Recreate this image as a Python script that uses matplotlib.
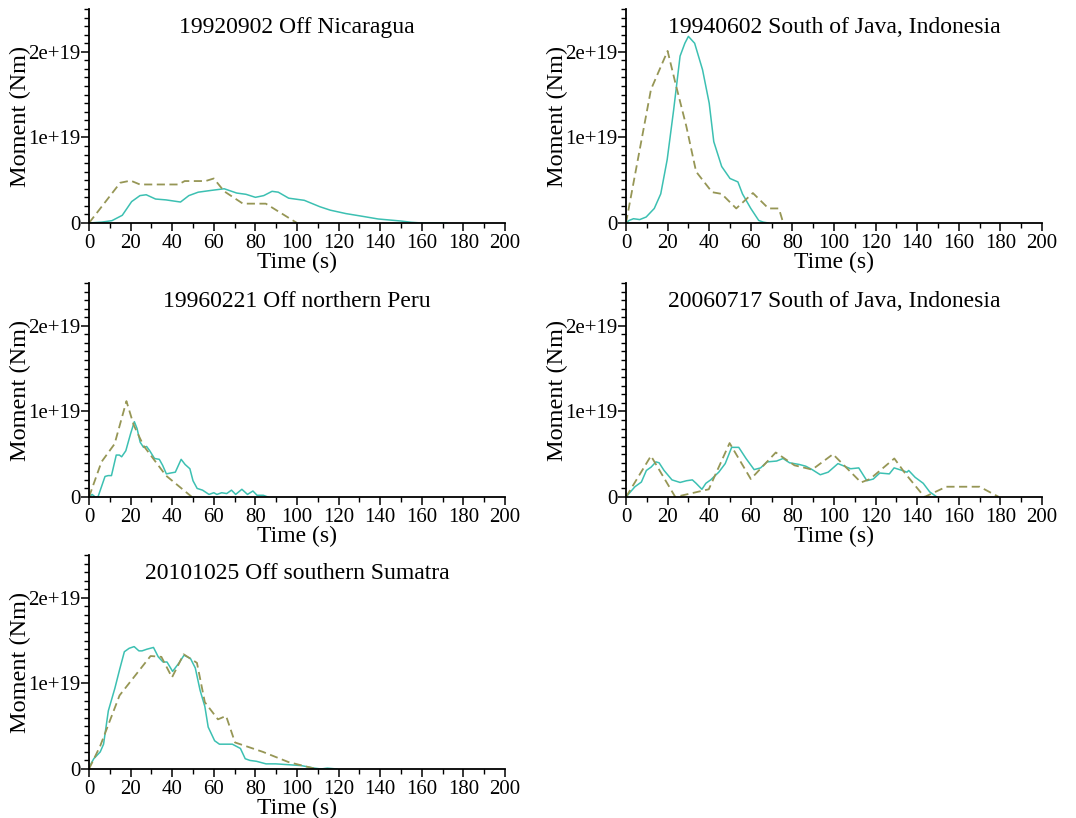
import numpy as np
import matplotlib
matplotlib.use("Agg")
import matplotlib.pyplot as plt
from matplotlib.ticker import MultipleLocator, FuncFormatter

plt.rcParams['font.family'] = ['Liberation Serif', 'DejaVu Serif']

# moment rate functions, time in s, moment in units of 1e19 Nm
titles = ['19920902 Off Nicaragua', '19940602 South of Java, Indonesia',
          '19960221 Off northern Peru', '20060717 South of Java, Indonesia',
          '20101025 Off southern Sumatra']

# 19920902
t1_obs = [0, 6, 11, 16, 20.5, 24.5, 27.5, 32, 37, 44, 48, 52.5, 58.5, 65, 71, 75.5, 80, 84,
          88, 91, 96, 103.5, 111, 116, 123.5, 131.5, 139, 150, 155, 160, 172]
m1_obs = [0, 0.01, 0.027, 0.09, 0.25, 0.32, 0.33, 0.28, 0.27, 0.245, 0.32, 0.36, 0.38, 0.40,
          0.35, 0.335, 0.30, 0.32, 0.37, 0.36, 0.29, 0.265, 0.19, 0.15, 0.11, 0.078, 0.047,
          0.023, 0.008, 0, 0]
t1_mod = [0, 15, 20, 24.5, 43, 46, 56, 60, 65, 74, 85, 100]
m1_mod = [0, 0.47, 0.495, 0.45, 0.45, 0.49, 0.49, 0.52, 0.37, 0.226, 0.226, 0]

# 19940602
t2_obs = [0, 1.5, 3.6, 6.6, 9.7, 13.6, 16.7, 19.8, 22.9, 26, 28.3, 30, 33, 36.8, 40, 42.2,
          46, 50, 53.8, 56, 60, 63.8, 66, 68.5]
m2_obs = [0, 0.03, 0.05, 0.04, 0.07, 0.17, 0.34, 0.74, 1.32, 1.95, 2.1, 2.18, 2.1, 1.79,
          1.4, 0.95, 0.66, 0.52, 0.48, 0.34, 0.17, 0.03, 0.01, 0]
t2_mod = [0, 12, 20, 23.7, 29, 33.7, 41.4, 46, 53, 61, 68.5, 73.5, 75.6]
m2_mod = [0, 1.56, 2.01, 1.64, 1.13, 0.6, 0.36, 0.34, 0.17, 0.35, 0.17, 0.17, 0]

# 19960221
t3_obs = [0, 1.5, 3, 4.3, 7.7, 9.2, 10.8, 13.1, 14.6, 15.7, 17.7, 20, 21.8, 23.1, 24.6,
          26.2, 27.7, 29.2, 31.5, 33.8, 35.4, 37.2, 39.2, 41.5, 44.3, 46.2, 48.5, 50, 52,
          54.6, 57.7, 60, 61.5, 63.8, 66.2, 68.5, 70.5, 73.5, 76.2, 78.8, 80.8, 83.8, 86]
m3_obs = [0, 0.03, 0, 0, 0.24, 0.25, 0.25, 0.49, 0.49, 0.47, 0.54, 0.74, 0.88, 0.8, 0.64,
          0.58, 0.59, 0.54, 0.45, 0.44, 0.37, 0.27, 0.28, 0.29, 0.44, 0.38, 0.33, 0.19, 0.1,
          0.08, 0.03, 0.05, 0.03, 0.05, 0.04, 0.08, 0.03, 0.09, 0.03, 0.07, 0.02, 0.02, 0]
t3_mod = [0, 6, 12.3, 18, 21.5, 26.2, 37, 49.5]
m3_mod = [0, 0.41, 0.62, 1.12, 0.84, 0.6, 0.25, 0]

# 20060717
t4_obs = [0, 4.3, 7.4, 9.8, 12.1, 14.4, 15.9, 18.3, 22.1, 26, 29.1, 31.9, 33.7, 36.5, 38.4,
          40.7, 44.6, 47.7, 50.8, 54.2, 57.7, 61.6, 64.7, 67.8, 72.4, 75.5, 78.6, 83.3, 86.4,
          89.5, 93.4, 97.2, 101.9, 105, 108, 111.9, 115.8, 118.9, 122, 126.6, 128.9, 132.8,
          135.1, 135.9, 139, 142.9, 146, 149.5]
m4_obs = [0, 0.12, 0.175, 0.31, 0.35, 0.41, 0.4, 0.31, 0.2, 0.17, 0.19, 0.2, 0.16, 0.09,
          0.16, 0.2, 0.29, 0.39, 0.58, 0.58, 0.45, 0.32, 0.34, 0.41, 0.42, 0.45, 0.4, 0.38,
          0.36, 0.32, 0.26, 0.29, 0.39, 0.36, 0.33, 0.34, 0.19, 0.21, 0.28, 0.27, 0.34, 0.31,
          0.29, 0.31, 0.23, 0.16, 0.06, 0]
t4_mod = [0, 12, 23.7, 39.8, 49.8, 60, 72, 81, 89.5, 99.5, 113, 117.3, 129, 134.4, 143.5,
          154, 170, 179.3]
m4_mod = [0, 0.48, 0, 0.09, 0.63, 0.21, 0.52, 0.37, 0.32, 0.5, 0.17, 0.21, 0.45, 0.27, 0,
          0.12, 0.12, 0]

# 20101025
t5_obs = [0, 2.3, 5.4, 7, 9.3, 12.4, 14.7, 17, 19.3, 21.7, 24, 25.5, 27.9, 31, 33.3, 35.6,
          37.5, 40.2, 43.3, 45.7, 48.8, 51.1, 53.4, 55.7, 57.3, 60.4, 62.7, 65, 68.9, 72.8,
          75.1, 77.4, 80.5, 85.1, 89.8, 96, 102, 108.4, 111.5, 114.6, 119.2]
m5_obs = [0.02, 0.12, 0.2, 0.29, 0.68, 0.94, 1.16, 1.37, 1.41, 1.43, 1.38, 1.38, 1.4, 1.42,
          1.31, 1.25, 1.25, 1.14, 1.24, 1.33, 1.29, 1.18, 0.92, 0.73, 0.49, 0.33, 0.29, 0.29,
          0.29, 0.24, 0.12, 0.1, 0.09, 0.06, 0.06, 0.05, 0.04, 0.01, 0, 0.01, 0]
t5_mod = [0, 5.4, 14.7, 29.6, 34.8, 39.9, 45.5, 51.9, 55.7, 62, 65.9, 70.2, 83.6, 96, 109.2]
m5_mod = [0, 0.27, 0.86, 1.32, 1.31, 1.07, 1.34, 1.24, 0.78, 0.58, 0.62, 0.31, 0.2, 0.08, 0]

observed = [(t1_obs, m1_obs), (t2_obs, m2_obs), (t3_obs, m3_obs), (t4_obs, m4_obs), (t5_obs, m5_obs)]
modelled = [(t1_mod, m1_mod), (t2_mod, m2_mod), (t3_mod, m3_mod), (t4_mod, m4_mod), (t5_mod, m5_mod)]

teal = '#3cc0b2'
olive = '#969655'

fig = plt.figure(figsize=(10.76, 8.18), dpi=100)
W, H = 1076, 818
lefts = [89, 626]
bottoms = [223, 497, 769]
aw, ah = 416, 214

for i in range(5):
    row, col = divmod(i, 2)
    ax = fig.add_axes([lefts[col] / W, 1 - bottoms[row] / H, aw / W, ah / H])
    t, m = observed[i]
    ax.plot(t, np.array(m) * 1e19, color=teal, lw=1.1)
    t, m = modelled[i]
    ax.plot(t, np.array(m) * 1e19, color=olive, lw=1.3, ls=(0, (4.5, 2.5)))

    ax.set_xlim(0, 200)
    ax.set_ylim(0, 2.5e19)
    for s in ['top', 'right']:
        ax.spines[s].set_visible(False)
    ax.spines['left'].set_linewidth(1.3)
    ax.spines['bottom'].set_linewidth(1.3)

    ax.xaxis.set_major_locator(MultipleLocator(20))
    ax.xaxis.set_minor_locator(MultipleLocator(10))
    ax.yaxis.set_major_locator(MultipleLocator(1e19))
    ax.yaxis.set_minor_locator(MultipleLocator(1e18))
    ax.yaxis.set_major_formatter(FuncFormatter(lambda v, p: '0' if v == 0 else '%de+19' % round(v / 1e19)))
    ax.tick_params(which='major', length=6, width=1.1, labelsize=15)
    ax.tick_params(axis='x', which='major', pad=2)
    ax.tick_params(axis='y', which='major', pad=0)
    ax.tick_params(which='minor', length=3.5, width=1.0)

    ax.set_xlabel('Time (s)', fontsize=17)
    ax.set_ylabel('Moment (Nm)', fontsize=17.5)
    ax.xaxis.set_label_coords(0.5, -0.135)
    ax.yaxis.set_label_coords(-0.14, 0.5)
    ax.text(0.5, 0.915, titles[i], transform=ax.transAxes, ha='center', va='center',
            fontsize=17)

fig.savefig('out.png', dpi=100)
